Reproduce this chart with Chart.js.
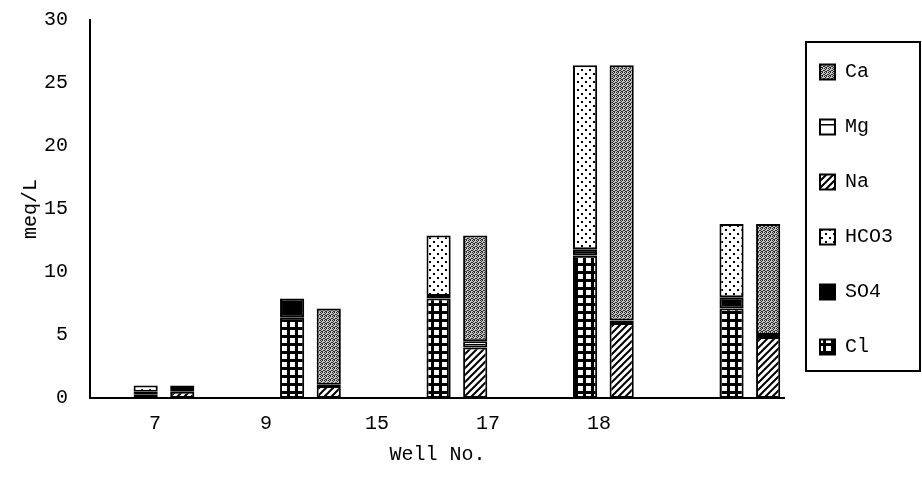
<!DOCTYPE html>
<html>
<head>
<meta charset="utf-8">
<title>meq/L by well</title>
<script src="https://cdn.jsdelivr.net/npm/chart.js@4.4.1/dist/chart.umd.min.js"></script>
<style>
  html, body { margin: 0; background: #fff; }
  #grafico { display: block; }
</style>
</head>
<body>
<canvas id="grafico" width="922" height="488"></canvas>
<script>
// ===================== DATA (meq/L) =====================
const WELLS = ["7", "9", "15", "17", "18"];

// anions (left bar of each pair)
const CL   = [0.3, 6.4, 7.9, 11.3, 7.1];
const SO4  = [0.2, 1.5, 0.2, 0.5, 0.9];
const HCO3 = [0.5, 0.0, 4.8, 14.6, 5.8];

// cations (right bar of each pair)
const NA = [0.5, 0.95, 4.0, 5.95, 4.85];
const MG = [0.3, 0.1, 0.5, 0.2, 0.15];
const CA = [0.2, 6.05, 8.4, 20.25, 8.8];

const Y_TICKS = { min: 0, max: 30, step: 5 };

// ===================== STYLE =====================
const FONTE = "'Liberation Mono', 'DejaVu Sans Mono', monospace";
const PRETO = "#000";

// small tile -> canvas pattern
function padrao(w, h, desenha) {
    const c = document.createElement("canvas");
    c.width = w; c.height = h;
    const g = c.getContext("2d");
    g.fillStyle = "#fff";
    g.fillRect(0, 0, w, h);
    desenha(g, w, h);
    return g.createPattern(c, "repeat");
}

const PAT_CL = padrao(8, 8, g => {          // grid of white cells
    g.fillStyle = PRETO;
    g.fillRect(0, 0, 8, 8);
    g.fillStyle = "#fff";
    g.fillRect(2, 2, 5, 5);
});

const PAT_HCO3 = padrao(8, 8, g => {        // sparse dots
    g.fillStyle = PRETO;
    g.fillRect(1, 1, 2, 2);
    g.fillRect(5, 5, 2, 2);
});

const PAT_NA = padrao(7, 7, (g, w, h) => {  // "/" hatch
    g.strokeStyle = PRETO;
    g.lineWidth = 2;
    g.beginPath();
    g.moveTo(0, h); g.lineTo(w, 0);
    g.moveTo(-1, 1); g.lineTo(1, -1);
    g.moveTo(w - 1, h + 1); g.lineTo(w + 1, h - 1);
    g.stroke();
});

const PAT_MG = padrao(4, 10, g => {         // horizontal rule
    g.fillStyle = PRETO;
    g.fillRect(0, 4, 4, 1.5);
});

const PAT_CA = padrao(4, 4, g => {          // dense stipple
    g.fillStyle = "#c4c4c4";
    g.fillRect(0, 0, 4, 4);
    g.fillStyle = "#2a2a2a";
    [[0, 0], [2, 0], [1, 1], [3, 2], [0, 2], [2, 3], [1, 3]].forEach(([x, y]) => g.fillRect(x, y, 1, 1));
});

// ===================== DATASETS =====================
function serie(label, valores, fundo, pilha) {
    return {
        label,
        data: valores.map((v, i) => ({ x: i, y: v })),
        backgroundColor: fundo,
        borderColor: PRETO,
        borderWidth: 2,
        borderSkipped: false,
        stack: pilha,
        barPercentage: 0.66,
        categoryPercentage: 0.5,
    };
}

const datasets = [
    serie("Cl",   CL,   PAT_CL,   "anion"),
    serie("SO4",  SO4,  PRETO,    "anion"),
    serie("HCO3", HCO3, PAT_HCO3, "anion"),
    serie("Na",   NA,   PAT_NA,   "cation"),
    serie("Mg",   MG,   PAT_MG,   "cation"),
    serie("Ca",   CA,   PAT_CA,   "cation"),
];

// ===================== PLUGINS =====================
// frame around the legend
const moldura = {
    id: "moldura",
    afterDraw(chart) {
        const caixas = chart.legend.legendHitBoxes;
        if (!caixas || !caixas.length) return;
        const ctx = chart.ctx;
        const x0 = caixas[0].left - 14;
        const y0 = caixas[0].top - 20;
        const ult = caixas[caixas.length - 1];
        ctx.save();
        ctx.strokeStyle = PRETO;
        ctx.lineWidth = 2;
        ctx.strokeRect(x0, y0, chart.width - 2 - x0, ult.top + ult.height + 14 - y0);
        ctx.restore();
    }
};

// ===================== CHART =====================
const fonteEixo = { family: FONTE, size: 20 };

new Chart(document.getElementById("grafico"), {
    type: "bar",
    data: { datasets },
    plugins: [moldura],
    options: {
        responsive: false,
        animation: false,
        layout: { padding: { top: 20, right: 19, bottom: 0, left: 0 } },
        plugins: {
            tooltip: { enabled: false },
            legend: {
                position: "right",
                align: "start",
                reverse: true,
                title: { display: true, text: "", padding: 0, font: { size: 7, lineHeight: 1 } },
                labels: {
                    boxWidth: 15,
                    boxHeight: 15,
                    padding: 35,
                    color: PRETO,
                    font: { family: FONTE, size: 20 },
                },
            },
        },
        scales: {
            // bar positions (hidden)
            x: {
                type: "linear",
                display: false,
                offset: false,
                grid: { offset: false },
                min: -0.505,
                max: 4.24,
                ticks: { stepSize: 1, includeBounds: false },
            },
            // well labels + axis line
            xl: {
                type: "linear",
                position: "bottom",
                offset: false,
                min: -0.586,
                max: 5.676,
                grid: { display: false, drawTicks: false, offset: false },
                border: { display: true, color: PRETO, width: 2 },
                ticks: {
                    stepSize: 1,
                    includeBounds: false,
                    autoSkip: false,
                    maxRotation: 0,
                    padding: 14,
                    color: PRETO,
                    font: fonteEixo,
                    callback: v => WELLS[v] ?? "",
                },
                title: {
                    display: true,
                    text: "Well No.",
                    color: PRETO,
                    font: fonteEixo,
                    padding: { top: 4, bottom: 21 },
                },
                afterFit: s => { s.height = 90; },
            },
            y: {
                stacked: true,
                min: Y_TICKS.min,
                max: Y_TICKS.max,
                grid: { display: false, drawTicks: false },
                border: { display: true, color: PRETO, width: 2 },
                ticks: {
                    stepSize: Y_TICKS.step,
                    padding: 22,
                    color: PRETO,
                    font: fonteEixo,
                },
                title: {
                    display: true,
                    text: "meq/L",
                    color: PRETO,
                    font: fonteEixo,
                    padding: { top: 19, bottom: 0 },
                },
                afterFit: s => {
                    s.width = 90;
                    // tick padding otherwise pushes the plot top down
                    s.paddingTop = 0;
                    s.paddingBottom = 0;
                },
            },
        },
    },
});
</script>
</body>
</html>
